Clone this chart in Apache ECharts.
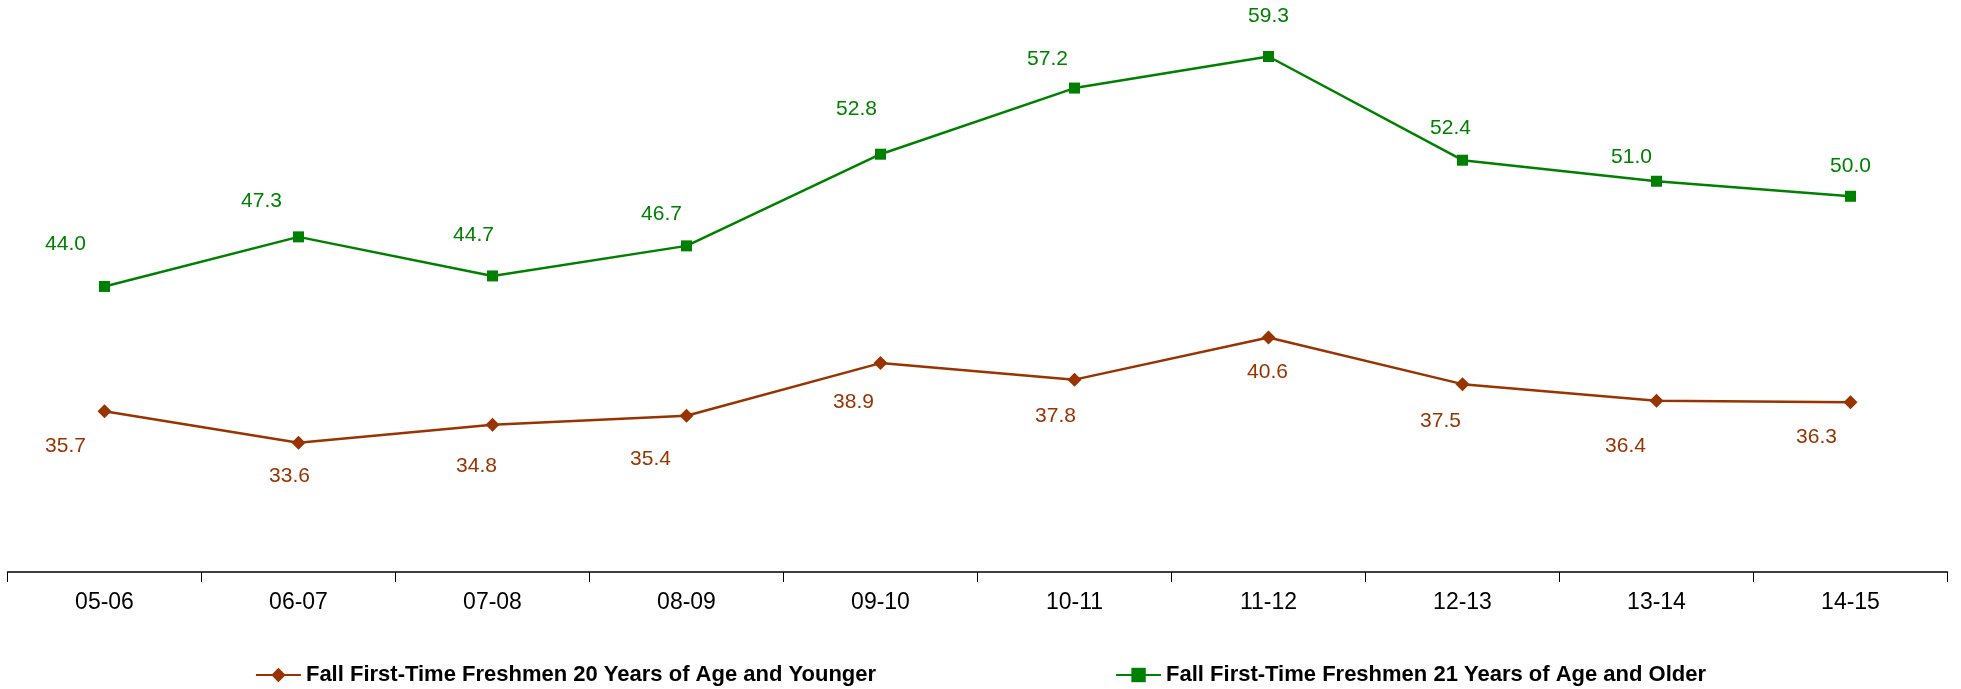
<!DOCTYPE html>
<html>
<head>
<meta charset="utf-8">
<script src="https://cdn.jsdelivr.net/npm/echarts@6/dist/echarts.min.js"></script>
<style>
html, body { margin: 0; padding: 0; background: #fff; }
#main { width: 1961px; height: 689px; }
</style>
</head>
<body>
<div id="main"></div>
<script>
var years = ['05-06', '06-07', '07-08', '08-09', '09-10', '10-11', '11-12', '12-13', '13-14', '14-15'];
var younger = [35.7, 33.6, 34.8, 35.4, 38.9, 37.8, 40.6, 37.5, 36.4, 36.3];
var older = [44.0, 47.3, 44.7, 46.7, 52.8, 57.2, 59.3, 52.4, 51.0, 50.0];
var youngerName = 'Fall First-Time Freshmen 20 Years of Age and Younger';
var olderName = 'Fall First-Time Freshmen 21 Years of Age and Older';

// label nudges, as placed in the original sheet
var youngerShift = [[-39,35],[-9,33],[-16,41],[-36,44],[-27,39],[-19,37],[-1,35],[-22,37],[-31,46],[-34,35]];
var olderShift = [[-39,-42],[-37,-36],[-19,-41],[-25,-32],[-24,-45],[-27,-29],[0,-40],[-12,-32],[-25,-24],[0,-30]];

var BROWN = '#993300';
var GREEN = '#008000';
var FONT = '"Liberation Sans", Arial, sans-serif';

function withLabels(values, shifts, color)
{
    var out = [];
    for (var i = 0; i < values.length; i++) {
        out.push({
            value: values[i],
            label: {
                show: true,
                position: 'inside',
                offset: shifts[i],
                color: color,
                fontSize: 21,
                fontFamily: FONT,
                formatter: function (p) { return p.value.toFixed(1); }
            }
        });
    }
    return out;
}

var chart = echarts.init(document.getElementById('main'));
var option = {
    animation: false,
    backgroundColor: '#fff',
    grid: { left: 7.5, right: 13.5, top: 46, bottom: 117 },
    legend: {
        top: 659,
        left: 'center',
        itemGap: 239,
        itemWidth: 45,
        itemHeight: 18,
        textStyle: { fontFamily: FONT, fontWeight: 'bold', fontSize: 22, color: '#000' },
        data: [youngerName, olderName]
    },
    xAxis: {
        type: 'category',
        data: years,
        boundaryGap: true,
        axisLine: { lineStyle: { color: '#000', width: 1.5 } },
        axisTick: { show: true, length: 10, lineStyle: { color: '#000' } },
        axisLabel: { color: '#000', fontSize: 23, fontFamily: FONT, margin: 19 }
    },
    yAxis: {
        type: 'value',
        min: 25,
        max: 60,
        show: false,
        splitLine: { show: false }
    },
    series: [
        {
            name: youngerName,
            type: 'line',
            data: withLabels(younger, youngerShift, BROWN),
            symbol: 'diamond',
            symbolSize: 14,
            itemStyle: { color: BROWN },
            lineStyle: { color: BROWN, width: 2.5 }
        },
        {
            name: olderName,
            type: 'line',
            data: withLabels(older, olderShift, GREEN),
            symbol: 'rect',
            symbolSize: 11,
            itemStyle: { color: GREEN },
            lineStyle: { color: GREEN, width: 2.5 }
        }
    ]
};
chart.setOption(option);
</script>
</body>
</html>
